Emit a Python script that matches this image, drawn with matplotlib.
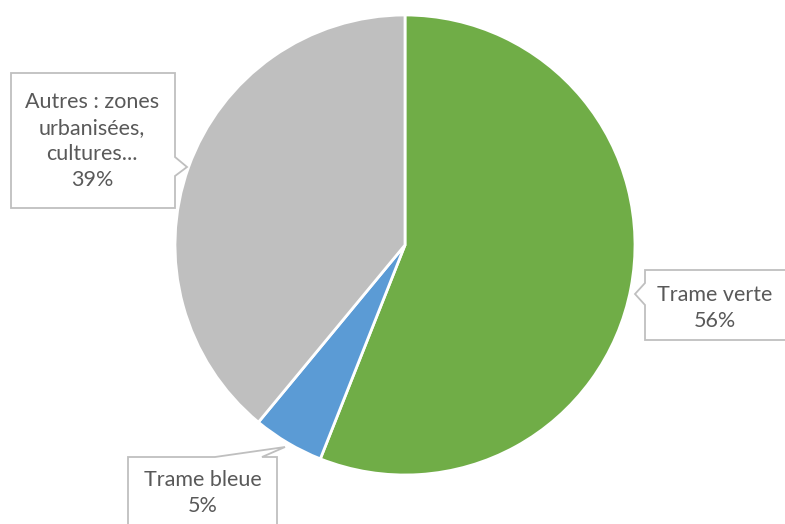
import matplotlib.pyplot as plt
from matplotlib.patches import Polygon

# donnees du camembert
labels = ['Trame verte', 'Trame bleue', 'Autres : zones\nurbanisées,\ncultures...']
values = [56, 5, 39]
colors = ['#70AD47', '#5B9BD5', '#BFBFBF']

W, H = 785, 524
fig = plt.figure(figsize=(W / 100, H / 100), dpi=100)
ax = fig.add_axes([0, 0, 1, 1])

ax.pie(values, colors=colors, startangle=90, counterclock=False,
       center=(405, H - 245), radius=230, frame=True,
       wedgeprops=dict(edgecolor='white', linewidth=2))
ax.set_xlim(0, W)
ax.set_ylim(0, H)
ax.set_aspect('equal')
ax.axis('off')


def callout(box, side, base, tip):
    # box en coordonnees image (x0, y0, x1, y1), pointeur sur un cote
    x0, y0, x1, y1 = box
    if side == 'right':
        pts = [(x0, y0), (x1, y0), (x1, base[0]), tip, (x1, base[1]), (x1, y1), (x0, y1)]
    elif side == 'left':
        pts = [(x0, y0), (x1, y0), (x1, y1), (x0, y1), (x0, base[1]), tip, (x0, base[0])]
    else:  # top
        pts = [(x0, y0), (base[0], y0), tip, (base[1], y0), (x1, y0), (x1, y1), (x0, y1)]
    pts = [(x, H - y) for x, y in pts]
    ax.add_patch(Polygon(pts, closed=True, facecolor='white', edgecolor='#BFBFBF',
                         linewidth=1.3, zorder=3))


txt = dict(ha='center', va='center', color='#595959', fontsize=15.5,
           family='Lato', linespacing=1.36, zorder=4)

callout((11, 73, 175, 208), 'right', (157, 176), (187, 167))
ax.text(92, H - 141, labels[2] + '\n' + str(values[2]) + '%', **txt)

callout((645, 270, 790, 340), 'left', (283, 305), (635, 294))
ax.text(715, H - 308, labels[0] + '\n' + str(values[0]) + '%', **txt)

callout((128, 457, 277, 540), 'top', (215, 262), (285, 447))
ax.text(203, H - 493, labels[1] + '\n' + str(values[1]) + '%', **txt)

fig.savefig('out.png', dpi=100, facecolor='white')
